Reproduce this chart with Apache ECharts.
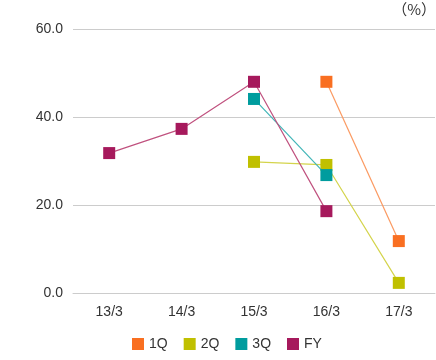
<!DOCTYPE html>
<html><head><meta charset="utf-8">
<script src="https://cdn.jsdelivr.net/npm/echarts@6/dist/echarts.min.js"></script>
<style>html,body{margin:0;padding:0;background:#fff}#c{width:436px;height:360px}</style>
</head><body><div id="c"></div>
<script>
var categories = ['13/3','14/3','15/3','16/3','17/3'];
var seriesNames = ['1Q','2Q','3Q','FY'];
var q1 = [null, null, null, 48.0, 11.8];
var q2 = [null, null, 29.8, 29.1, 2.3];
var q3 = [null, null, 44.1, 26.8, null];
var fy = [31.8, 37.3, 48.0, 18.6, null];
var colors = ['#F96F21','#C0C000','#009C9E','#A6195C'];
var lineColors = ['#FB9A62','#D4D44C','#40B5B7','#C0527F'];
var yTicks = {min:0, max:60, interval:20};
var font = '"Liberation Sans", Arial, sans-serif';
var cjk = '"Noto Sans CJK JP", sans-serif';
var chart = echarts.init(document.getElementById('c'));
var data = [q1,q2,q3,fy];
chart.setOption({
  animation:false,
  textStyle:{fontFamily:font},
  grid:{left:73,right:1,top:29,bottom:67},
  title:{text:'（%）',right:0,top:2,padding:0,textStyle:{fontSize:15,fontWeight:'normal',color:'#333',fontFamily:cjk}},
  legend:{bottom:4,left:127,itemWidth:12,itemHeight:12,itemGap:16,icon:'rect',
    textStyle:{fontSize:14,color:'#333',fontFamily:font},data:seriesNames},
  xAxis:{type:'category',data:categories,boundaryGap:true,
    axisLine:{lineStyle:{color:'#ccc'}},
    axisTick:{length:12,lineStyle:{color:'#ccc'}},
    axisLabel:{color:'#333',fontSize:14,margin:12,fontFamily:font}},
  yAxis:{type:'value',min:yTicks.min,max:yTicks.max,interval:yTicks.interval,
    axisLine:{show:false},axisTick:{show:false},
    splitLine:{lineStyle:{color:'#ccc'}},
    axisLabel:{color:'#333',fontSize:14,margin:10,fontFamily:font,formatter:function(v){return v.toFixed(1);}}},
  series:seriesNames.map(function(n,i){return {
    name:n,type:'line',data:data[i],symbol:'rect',symbolSize:12,connectNulls:false,
    itemStyle:{color:colors[i]},lineStyle:{color:lineColors[i],width:1.2},z:2+i
  };})
});
</script></body></html>
